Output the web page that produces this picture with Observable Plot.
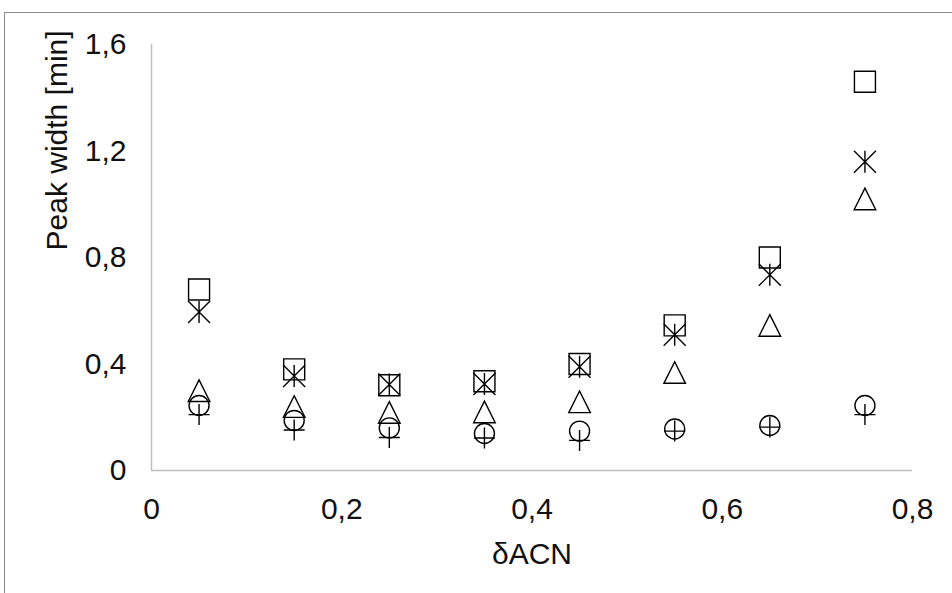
<!DOCTYPE html>
<html><head><meta charset="utf-8">
<script src="https://cdn.jsdelivr.net/npm/d3@7"></script>
<script src="https://cdn.jsdelivr.net/npm/@observablehq/plot@0.6"></script>
<style>
body{margin:0;background:#fff;}
#wrap{position:relative;width:952px;height:593px;overflow:hidden;background:#fff;}
#frame{position:absolute;left:4px;top:12px;width:1000px;height:1000px;border-top:1px solid #8c8c8c;border-left:1px solid #8c8c8c;}
#chart{position:absolute;left:0;top:0;}
</style></head><body>
<div id="wrap"><div id="frame"></div><div id="chart"></div></div>
<script>
// ---- data ----
const xValues   = [0.05, 0.15, 0.25, 0.35, 0.45, 0.55, 0.65, 0.75];
const squareS   = [0.68, 0.38, 0.32, 0.335, 0.40, 0.545, 0.80, 1.46];
const asteriskS = [0.595, 0.355, 0.323, 0.325, 0.39, 0.51, 0.735, 1.16];
const triangleS = [0.30, 0.24, 0.218, 0.22, 0.258, 0.368, 0.545, 1.02];
const circleS   = [0.244, 0.188, 0.16, 0.139, 0.148, 0.156, 0.169, 0.244];
const plusS     = [0.21, 0.152, 0.124, 0.122, 0.113, 0.148, 0.163, 0.21];
const xTicks = [0, 0.2, 0.4, 0.6, 0.8];
const yTicks = [0, 0.4, 0.8, 1.2, 1.6];
const xLabel = "δACN";
const yLabel = "Peak width [min]";

// ---- excel-like marker symbols ----
const hr = size => Math.sqrt(size / Math.PI);
const symSquare = {draw(c, size){const s = hr(size); c.moveTo(-s,-s); c.lineTo(s,-s); c.lineTo(s,s); c.lineTo(-s,s); c.closePath();}};
const symAsterisk = {draw(c, size){const s = hr(size); c.moveTo(-s,-s); c.lineTo(s,s); c.moveTo(-s,s); c.lineTo(s,-s); c.moveTo(0,-s); c.lineTo(0,s);}};
const symTriangle = {draw(c, size){const s = hr(size); c.moveTo(0,-s); c.lineTo(s,s); c.lineTo(-s,s); c.closePath();}};
const symCircle = {draw(c, size){const s = hr(size); c.moveTo(s,0); c.arc(0,0,s,0,2*Math.PI);}};
const symPlus = {draw(c, size){const s = hr(size); c.moveTo(-s,0); c.lineTo(s,0); c.moveTo(0,-s); c.lineTo(0,s);}};

const rows = ys => xValues.map((x, i) => ({x, y: ys[i]}));
const fmt = d => d === 0 ? "0" : String(d).replace(".", ",");
const dotOpts = (sym, r) => ({x: "x", y: "y", symbol: sym, r, stroke: "#000", fill: "none", strokeWidth: 1.4});

const chart = Plot.plot({
  width: 952, height: 593,
  marginLeft: 151, marginRight: 40, marginTop: 44, marginBottom: 123,
  x: {domain: [0, 0.8]},
  y: {domain: [0, 1.6]},
  style: {fontFamily: "'Liberation Sans', Arial, sans-serif", fontSize: "30px", color: "#111", background: "transparent", overflow: "visible"},
  marks: [
    Plot.ruleY([0], {stroke: "#bfbfbf", strokeWidth: 1.5}),
    Plot.ruleX([0], {stroke: "#bfbfbf", strokeWidth: 1.5}),
    Plot.axisX({ticks: xTicks, tickFormat: fmt, tickSize: 0, tickPadding: 27, label: null}),
    Plot.axisY({ticks: yTicks, tickFormat: fmt, tickSize: 0, tickPadding: 25, label: null}),
    Plot.text([xLabel], {text: d => d, frameAnchor: "bottom", dy: 84, lineAnchor: "middle", fontSize: 30, fill: "#111"}),
    Plot.text([yLabel], {text: d => d, frameAnchor: "left", rotate: -90, dx: -94, dy: -7, lineAnchor: "middle", fontSize: 30, fill: "#111"}),
    Plot.dot(rows(squareS), dotOpts(symSquare, 10.5)),
    Plot.dot(rows(asteriskS), dotOpts(symAsterisk, 11)),
    Plot.dot(rows(triangleS), dotOpts(symTriangle, 10.8)),
    Plot.dot(rows(circleS), dotOpts(symCircle, 10)),
    Plot.dot(rows(plusS), dotOpts(symPlus, 10.5))
  ]
});
document.getElementById("chart").appendChild(chart);
</script>
</body></html>
